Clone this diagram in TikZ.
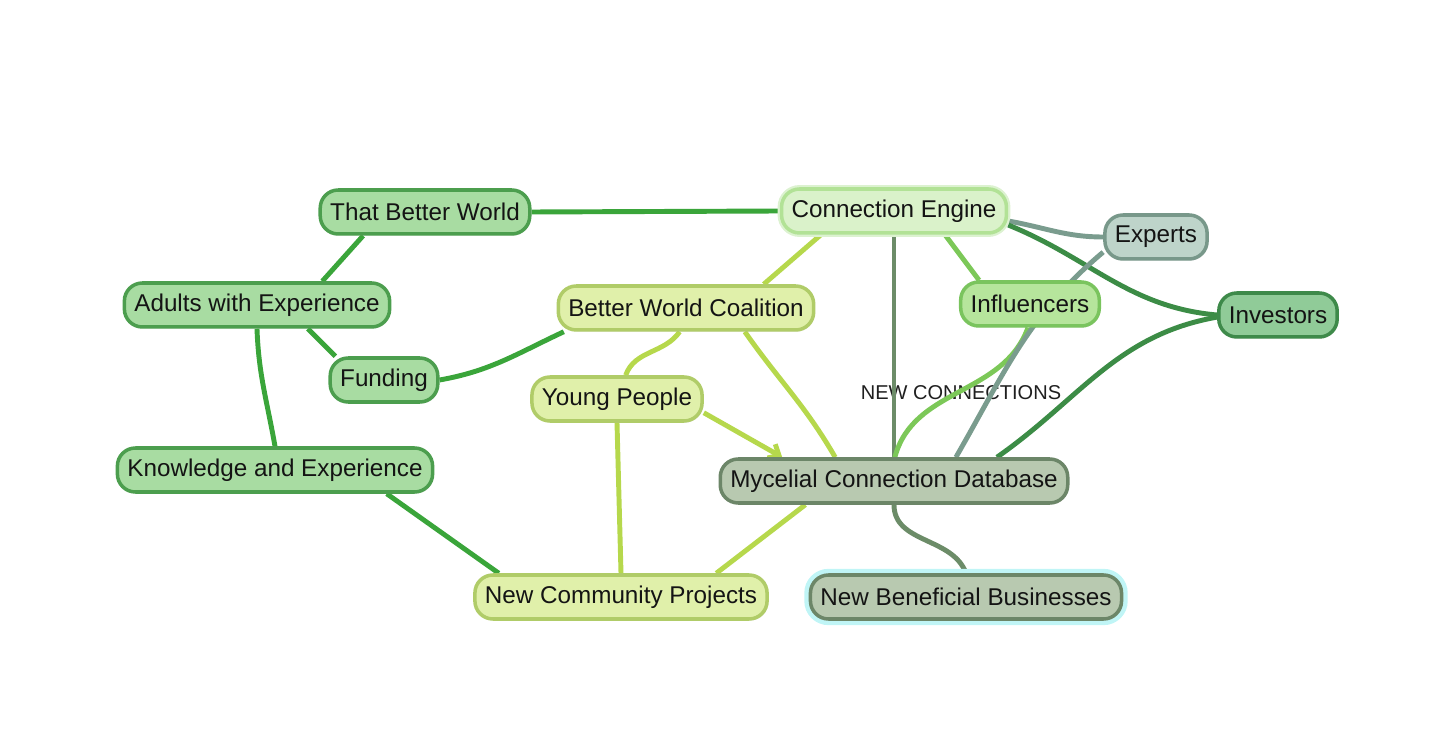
\documentclass[tikz,border=0pt]{standalone}
\usepackage{fontspec}
\setmainfont{Liberation Sans}
\usepackage{xcolor}
\usetikzlibrary{arrows.meta, backgrounds, shadows}

\definecolor{leaffill}{RGB}{168,220,162}
\definecolor{leafedge}{RGB}{76,158,78}
\definecolor{enginefill}{RGB}{218,242,202}
\definecolor{engineedge}{RGB}{178,226,150}
\definecolor{youthfill}{RGB}{224,240,170}
\definecolor{youthedge}{RGB}{176,204,104}
\definecolor{influfill}{RGB}{182,229,156}
\definecolor{influedge}{RGB}{122,196,94}
\definecolor{expertfill}{RGB}{190,212,202}
\definecolor{expertedge}{RGB}{120,152,138}
\definecolor{investfill}{RGB}{144,203,152}
\definecolor{investedge}{RGB}{62,138,74}
\definecolor{mycfill}{RGB}{184,201,176}
\definecolor{mycedge}{RGB}{108,134,104}
\definecolor{glowcyan}{RGB}{150,238,240}

\definecolor{linkgreen}{RGB}{58,165,58}
\definecolor{linkyellow}{RGB}{182,216,76}
\definecolor{linkmoss}{RGB}{108,140,104}
\definecolor{linklight}{RGB}{124,200,88}
\definecolor{linkgrey}{RGB}{122,156,142}
\definecolor{linkdark}{RGB}{60,140,70}

\begin{document}
\begin{tikzpicture}[x=0.02cm, y=-0.02cm,
    idea/.style={draw, rounded corners=0.36cm, line width=2pt, minimum height=0.88cm,
        inner xsep=0.2cm, font=\fontsize{13.8}{16}\selectfont, text=black!92,
        drop shadow={opacity=0.18, shadow xshift=0.6pt, shadow yshift=-0.9pt}},
    adult/.style={idea, fill=leaffill, draw=leafedge},
    engine/.style={idea, fill=enginefill, draw=engineedge,
        preaction={draw=engineedge!45, line width=4.5pt}},
    youth/.style={idea, fill=youthfill, draw=youthedge},
    influ/.style={idea, fill=influfill, draw=influedge},
    expert/.style={idea, fill=expertfill, draw=expertedge},
    invest/.style={idea, fill=investfill, draw=investedge},
    myc/.style={idea, fill=mycfill, draw=mycedge},
    business/.style={myc, preaction={draw=glowcyan!60, line width=7pt}},
    link/.style={line width=2.8pt}]

    \useasboundingbox (0,0) rectangle (1454,739);

    % Ideas
    \node[adult] (world) at (425,212) {That Better World};
    \node[engine] (engine) at (894,211) {Connection Engine};
    \node[expert] (experts) at (1156,237) {Experts};
    \node[adult] (adults) at (257,305) {Adults with Experience};
    \node[youth] (coalition) at (686,308) {Better World Coalition};
    \node[influ] (influencers) at (1030,304) {Influencers};
    \node[invest] (investors) at (1278,315) {Investors};
    \node[adult] (funding) at (384,380) {Funding};
    \node[youth] (young) at (617,399) {Young People};
    \node[adult] (knowledge) at (275,470) {Knowledge and Experience};
    \node[myc] (database) at (894,481) {Mycelial Connection Database};
    \node[youth] (projects) at (621,597) {New Community Projects};
    \node[business] (business) at (966,597) {New Beneficial Businesses};

    \begin{scope}[on background layer]
        % Label under the links
        \node[font=\fontsize{11.4}{13}\selectfont, text=black!88] (newconn) at (961,393) {NEW CONNECTIONS};

        % Adult side
        \draw[link, linkgreen] (world.east) -- (engine.west);
        \draw[link, linkgreen] (world.201) -- (adults.20);
        \draw[link, linkgreen] (adults.335) -- (funding.154);
        \draw[link, linkgreen] (adults.south) to[out=-88, in=100] (knowledge.north);
        \draw[link, linkgreen] (funding.east) to[out=10, in=205] (coalition.191);
        \draw[link, linkgreen] (knowledge.348) -- (projects.169);

        % Youth side
        \draw[link, linkyellow] (coalition.17) -- (engine.198);
        \draw[link, linkyellow] (coalition.255) to[out=-125, in=70] (young.70);
        \draw[link, linkyellow] (coalition.338) to[out=-55, in=120] (database.158);
        \draw[link, linkyellow, -{Straight Barb[length=5pt, width=9pt]}] (young.351) -- (database.168);
        \draw[link, linkyellow] (young.south) -- (projects.north);
        \draw[link, linkyellow] (projects.14) -- (database.195);

        % Engine side
        \draw[link, linkmoss] (engine.south) -- (database.north);
        \draw[link, linklight] (engine.335) -- (influencers.155);
        \draw[link, linkgrey] (engine.355) to[out=-10, in=180] (experts.west);
        \draw[link, linkdark] (engine.353) to[out=-22, in=175] (investors.west);
        \draw[link, linklight] (influencers.265) to[out=-110, in=75] (database.88);
        \draw[link, linkgrey] (experts.196) to[out=-140, in=60] (database.21);
        \draw[link, linkdark] (investors.182) to[out=190, in=35] (database.13);
        \draw[link, linkmoss] (database.south) to[out=-90, in=110] (business.north);
    \end{scope}
\end{tikzpicture}
\end{document}
